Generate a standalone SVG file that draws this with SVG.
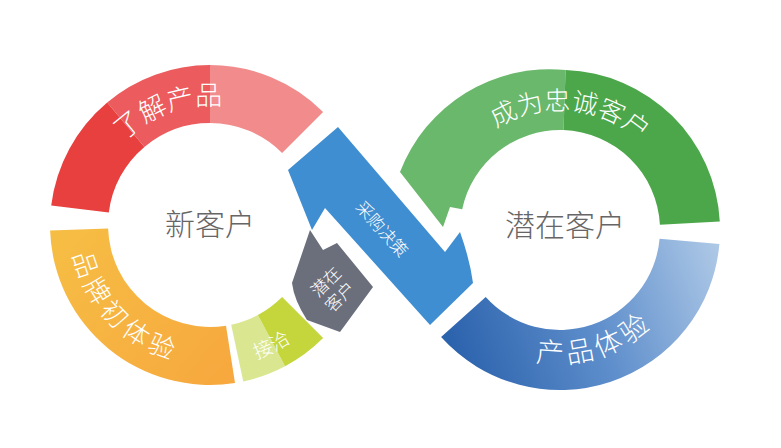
<svg xmlns="http://www.w3.org/2000/svg" width="781" height="448" viewBox="0 0 781 448">
<style>
.t{font-family:"Noto Sans CJK SC","Noto Sans",sans-serif;fill:#fff;font-weight:300}
.c{font-family:"Noto Sans CJK SC","Noto Sans",sans-serif;fill:#666;font-size:30px;font-weight:300;text-anchor:middle;dominant-baseline:central}
</style>
<defs>
<linearGradient id="bl" gradientUnits="userSpaceOnUse" x1="450" y1="340" x2="720" y2="240"><stop offset="0" stop-color="#2c63ad"/><stop offset="0.5" stop-color="#5f8fcc"/><stop offset="1" stop-color="#b0cae7"/></linearGradient>
<linearGradient id="or" gradientUnits="userSpaceOnUse" x1="60" y1="240" x2="230" y2="380"><stop offset="0" stop-color="#f6bd44"/><stop offset="1" stop-color="#f7a83e"/></linearGradient>
<path id="p1" d="M91.8,204.2 A120 120 0 0 1 313.9,165"/>
<path id="p2" d="M70.5,212.8 A140 140 0 0 0 317.2,315"/>
<path id="p3" d="M185.3,364.8 A142 142 0 0 0 343.4,273.6"/>
<path id="p4" d="M441.8,209.2 A120 120 0 0 1 678.2,209.2"/>
<path id="p5" d="M427.5,241.6 A133 133 0 0 0 691,253.1"/>
</defs>
<g id="node-left">
<path d="M51.2,205.5 A160 160 0 0 1 107.2,102.4 L144.4,146.9 A102 102 0 0 0 108.8,212.6 Z" fill="#e8403f"/>
<path d="M107.2,102.4 A160 160 0 0 1 210,65 L210,123 A102 102 0 0 0 144.4,146.9 Z" fill="#ec5b5d"/>
<path d="M210,65 A160 160 0 0 1 323.1,111.9 L282.1,152.9 A102 102 0 0 0 210,123 Z" fill="#f28c8c"/>
<path d="M50.1,230.6 A160 160 0 0 0 235,383 L226,325.7 A102 102 0 0 1 108.1,228.6 Z" fill="url(#or)"/>
<path d="M243.3,381.5 A160 160 0 0 0 285.1,366.3 L257.9,315.1 A102 102 0 0 1 231.2,324.8 Z" fill="#dae790"/>
<path d="M285.1,366.3 A160 160 0 0 0 323.1,338.1 L282.1,297.1 A102 102 0 0 1 257.9,315.1 Z" fill="#c4d63b"/>
<text class="c" x="210" y="222">新客户</text>
<text class="t" font-size="27"><textPath href="#p1" startOffset="125.7" text-anchor="middle">了解产品</textPath></text>
<text class="t" font-size="26" letter-spacing="5"><textPath href="#p2" startOffset="119.7" text-anchor="middle">品牌初体验</textPath></text>
<text class="t" font-size="19"><textPath href="#p3" startOffset="91.7" text-anchor="middle">接洽</textPath></text>
</g>
<g id="node-right">
<path d="M400,172 A160 160 0 0 1 565.6,70.1 L563.5,130.1 A100 100 0 0 0 462.2,209.2 L450,207 L443,227 Z" fill="#6ab86c"/>
<path d="M565.6,70.1 A160 160 0 0 1 719.8,221.6 L659.9,224.8 A100 100 0 0 0 563.5,130.1 Z" fill="#4ca74b"/>
<path d="M719.4,243.9 A160 160 0 0 1 441.1,337.1 L485.7,296.9 A100 100 0 0 0 659.6,238.7 Z" fill="url(#bl)"/>
<text class="c" x="565" y="223">潜在客户</text>
<text class="t" font-size="26"><textPath href="#p4" startOffset="178" text-anchor="middle">成为忠诚客户</textPath></text>
<text class="t" font-size="28" letter-spacing="4"><textPath href="#p5" startOffset="236.8" text-anchor="middle">产品体验</textPath></text>
</g>
<g id="node-band">
<path d="M288,170 L338,127 L445,252 L460,232 Q470,260 473,283 L430,325 L325,208 L312,230 Q300,200 288,170 Z" fill="#3f8ed2"/>
<text class="t" font-size="17" text-anchor="middle" dominant-baseline="central" transform="translate(383,228) rotate(48)">采购决策</text>
</g>
<g id="node-gray">
<path d="M310,230 L323,250 L337,243 L373,287 L340,332 L307,320 Q294,300 292,283 Z" fill="#6b6f7c"/>
<text class="t" font-size="17" text-anchor="middle" dominant-baseline="central" transform="translate(325,281) rotate(-45)">潜在</text>
<text class="t" font-size="17" text-anchor="middle" dominant-baseline="central" transform="translate(339,296) rotate(-45)">客户</text>
</g>
<g id="connectors"/>
</svg>
